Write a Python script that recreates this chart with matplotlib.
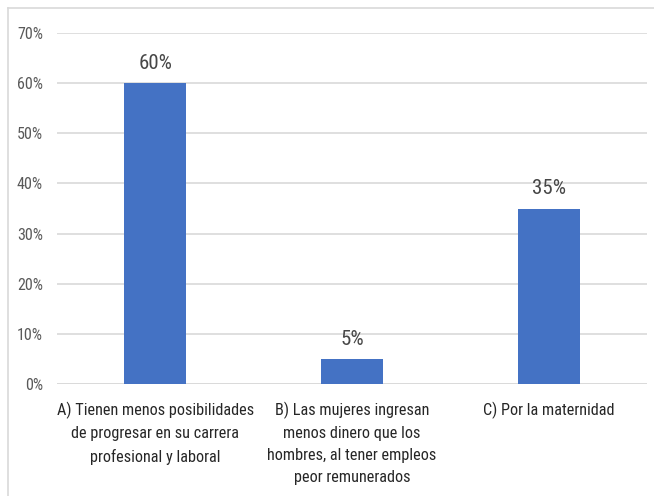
import matplotlib.pyplot as plt
from matplotlib.lines import Line2D
from matplotlib import font_manager

categories = [
    "A) Tienen menos posibilidades\nde progresar en su carrera\nprofesional y laboral",
    "B) Las mujeres ingresan\nmenos dinero que los\nhombres, al tener empleos\npeor remunerados",
    "C) Por la maternidad",
]
values = [60, 5, 35]
y_ticks = [0, 10, 20, 30, 40, 50, 60, 70]

# pick a narrow sans face, Arial Narrow style
wanted = ["LiberationSansNarrow-Regular.ttf", "ArialNarrow.ttf", "RobotoCondensed-Regular.ttf",
          "ArchivoNarrow[wght].ttf", "BarlowSemiCondensed-Regular.ttf", "DejaVuSansCondensed.ttf"]
by_name = {f.fname.split("/")[-1]: f.fname for f in font_manager.fontManager.ttflist}
narrow = next((by_name[n] for n in wanted if n in by_name), None)
if narrow:
    fp = font_manager.FontProperties(fname=narrow)
else:
    fp = font_manager.FontProperties(family="Liberation Sans")

W, H = 654, 496
fig = plt.figure(figsize=(W / 100, H / 100), dpi=100)
ax = fig.add_axes([57 / W, 1 - 384 / H, (647 - 57) / W, (384 - 33) / H])

x = range(len(categories))
ax.bar(x, values, width=0.315, color="#4472C4", zorder=3)
for xi, v in zip(x, values):
    ax.text(xi, v + 2.0, f"{v}%", ha="center", va="bottom", fontproperties=fp,
            fontsize=15, color="#474747")

ax.set_xlim(-0.5, 2.5)
ax.set_ylim(0, 70)
ax.set_yticks(y_ticks)
ax.set_yticklabels([f"{t}%" for t in y_ticks], fontproperties=fp,
                   fontsize=11.5, color="#595959")
ax.set_xticks(list(x))
ax.set_xticklabels(categories, fontproperties=fp, fontsize=11.7,
                   color="#262626", linespacing=1.6)
ax.tick_params(axis="both", length=0)
ax.tick_params(axis="x", pad=12.5)
ax.tick_params(axis="y", pad=10)
ax.yaxis.grid(True, color="#D9D9D9", linewidth=1.2, zorder=0)
for s in ax.spines.values():
    s.set_visible(False)
ax.axhline(0, color="#D9D9D9", linewidth=1.2, zorder=2)

# chart frame
fig.add_artist(Line2D([8 / W, 1], [1 - 8 / H] * 2, color="#D9D9D9", lw=1.2))
fig.add_artist(Line2D([8 / W] * 2, [0, 1 - 8 / H], color="#D9D9D9", lw=1.2))

fig.savefig("out.png", dpi=100)
